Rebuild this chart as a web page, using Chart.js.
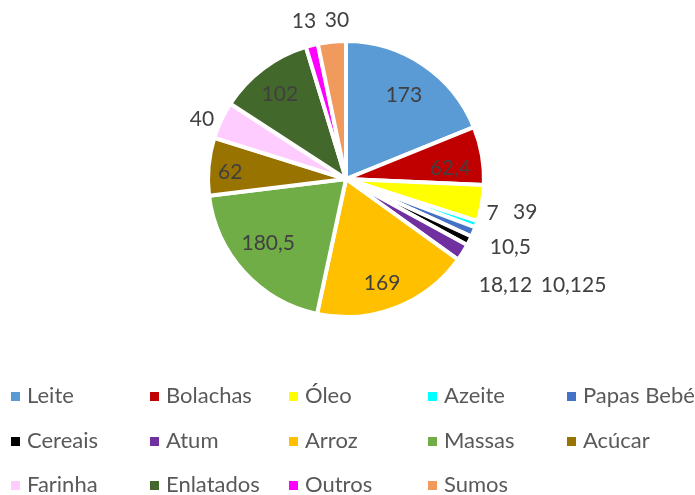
<!DOCTYPE html>
<html>
<head>
<meta charset="utf-8">
<script src="https://cdn.jsdelivr.net/npm/chart.js@4.4.0/dist/chart.umd.min.js"></script>
<style>
  html, body { margin: 0; padding: 0; background: #fff; }
  #wrap { position: relative; width: 695px; height: 495px; overflow: hidden; }
  #chartBox { position: absolute; left: 0; top: 0; width: 695px; height: 360px; }
  #legend { position: absolute; left: 0; top: 0; width: 695px; height: 495px; pointer-events: none; }
  .item { position: absolute; font-family: Lato, "Open Sans", sans-serif; font-size: 22px; color: #595959; white-space: nowrap; line-height: 24px; }
  .item span.box { position: absolute; left: 0; top: 9px; width: 9px; height: 9px; }
  .item span.txt { position: absolute; left: 16px; top: 0; }
</style>
</head>
<body>
<div id="wrap">
  <div id="chartBox"><canvas id="pie"></canvas></div>
  <div id="legend"></div>
</div>
<script>
// categories and quantities
const categories = ['Leite', 'Bolachas', 'Óleo', 'Azeite', 'Papas Bebé', 'Cereais', 'Atum',
                    'Arroz', 'Massas', 'Acúcar', 'Farinha', 'Enlatados', 'Outros', 'Sumos'];
const quantities = [173, 62.4, 39, 7, 10.5, 10.125, 18.12, 169, 180.5, 62, 40, 102, 13, 30];
const sliceColors = ['#5B9BD5', '#C00000', '#FFFF00', '#00FFFF', '#4472C4', '#000000', '#7030A0',
                     '#FFC000', '#70AD47', '#997300', '#FFCCFF', '#43682B', '#FF00FF', '#F19A5E'];

// where each value label sits: fraction of the radius, plus a small angle nudge (degrees)
const labelRadius = [0.74, 0.76, 1.32, 1.09, 1.29, 1.82, 1.39, 0.80, 0.73, 0.84, 1.13, 0.78, 1.18, 1.15];
const labelNudge  = [0.6, 4, 0.3, -6, 0, -1.6, 1.6, 2, 3, -1.7, -2.6, -1, -0.6, 2.6];

const valueLabels = {
    id: 'valueLabels',
    afterDatasetsDraw(chart) {
        const ctx = chart.ctx;
        const meta = chart.getDatasetMeta(0);
        ctx.save();
        ctx.font = '21px Lato, "Open Sans", sans-serif';
        ctx.fillStyle = '#404040';
        ctx.textAlign = 'center';
        ctx.textBaseline = 'middle';
        meta.data.forEach((arc, i) => {
            const p = arc.getProps(['x', 'y', 'startAngle', 'endAngle', 'outerRadius'], true);
            const mid = (p.startAngle + p.endAngle) / 2 + labelNudge[i] * Math.PI / 180;
            const r = p.outerRadius * labelRadius[i];
            const text = String(quantities[i]).replace('.', ',');
            ctx.fillText(text, p.x + Math.cos(mid) * r, p.y + Math.sin(mid) * r);
        });
        ctx.restore();
    }
};

new Chart(document.getElementById('pie'), {
    type: 'pie',
    data: {
        labels: categories,
        datasets: [{
            data: quantities,
            backgroundColor: sliceColors,
            borderColor: '#ffffff',
            borderWidth: 4
        }]
    },
    options: {
        responsive: true,
        maintainAspectRatio: false,
        animation: false,
        radius: 138,
        layout: { padding: { top: 41, bottom: 43, left: 0, right: 3 } },
        plugins: {
            legend: { display: false },
            tooltip: { enabled: false }
        }
    },
    plugins: [valueLabels]
});

// legend laid out as a 5-column grid under the pie
const legendEl = document.getElementById('legend');
const colX = [11, 150, 289, 428, 567];
const rowY = [383, 428, 472];
categories.forEach((name, i) => {
    const item = document.createElement('div');
    item.className = 'item';
    item.style.left = colX[i % 5] + 'px';
    item.style.top = rowY[Math.floor(i / 5)] + 'px';
    item.innerHTML = '<span class="box" style="background:' + sliceColors[i] + '"></span><span class="txt">' + name + '</span>';
    legendEl.appendChild(item);
});
</script>
</body>
</html>
